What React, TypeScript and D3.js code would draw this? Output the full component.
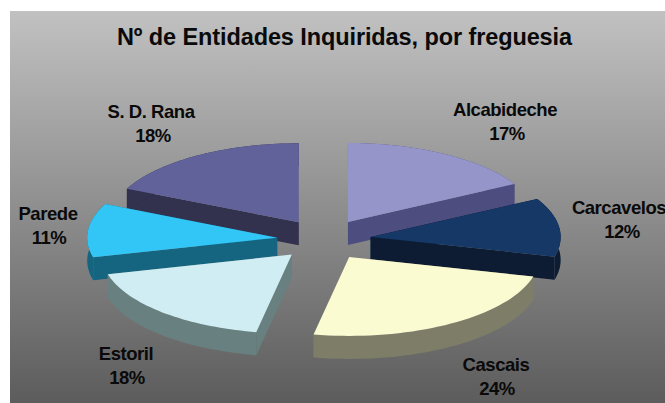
import React from "react";
import * as d3 from "d3";

const categories = ["Alcabideche", "Carcavelos", "Cascais", "Estoril", "Parede", "S. D. Rana"];
const shares = [17, 12, 24, 18, 11, 18];
const topColors = ["#9595c9", "#133766", "#fbfbd1", "#cfedf3", "#33c6f6", "#62629a"];
const sideColors = ["#4d4d80", "#0b1c33", "#7e7e68", "#67807f", "#136580", "#30304f"];
const paintOrder = [0, 5, 1, 4, 2, 3];
const labelCentres = [[505, 116], [619, 214], [496, 371], [126, 360], [48, 220], [151, 118]];
const shareCentres = [507, 622, 497, 127, 49, 153];

const W = 665, H = 403;
const CX = 324, CY = 239.6, RX = 190, RY = 79, DEPTH = 23, EXPLODE = 47, EXPLODE_Y = 20.5;

const arcs = d3.pie<number>().sort(null).value((d) => d)(shares);

function Slice({ i }: { i: number }) {
  const a = arcs[i];
  const mid = (a.startAngle + a.endAngle) / 2;
  const ax = CX + EXPLODE * Math.sin(mid);
  const ay = CY - EXPLODE_Y * Math.cos(mid);
  const angles = d3.range(0, 41).map((k) => a.startAngle + ((a.endAngle - a.startAngle) * k) / 40);
  const rim: [number, number][] = angles.map((t) => [ax + RX * Math.sin(t), ay - RY * Math.cos(t)]);
  const line = d3.line();
  const apex: [number, number] = [ax, ay];
  const down = (p: [number, number]): [number, number] => [p[0], p[1] + DEPTH];
  const first = rim[0], last = rim[rim.length - 1];
  return (
    <g>
      <path d={line([apex, first, down(first), down(apex)]) + "Z"} fill={sideColors[i]} />
      <path d={line([apex, last, down(last), down(apex)]) + "Z"} fill={sideColors[i]} />
      <path d={line([...rim, ...rim.slice().reverse().map(down)]) + "Z"} fill={sideColors[i]} />
      <path d={line([apex, ...rim]) + "Z"} fill={topColors[i]} />
    </g>
  );
}

export default function App() {
  const font = "'Liberation Sans', Arial, sans-serif";
  return (
    <svg width={W} height={H} viewBox={`0 0 ${W} ${H}`} style={{ position: "absolute", left: 0, top: 0, background: "#fff" }}>
      <defs>
        <linearGradient id="bg" x1="0" y1="0" x2="0" y2="1">
          <stop offset="0" stopColor="#c1c1c1" />
          <stop offset="1" stopColor="#5c5c5c" />
        </linearGradient>
        <filter id="soft" x="-5%" y="-5%" width="110%" height="110%">
          <feGaussianBlur stdDeviation="0.35" />
        </filter>
      </defs>
      <rect x={10} y={11} width={W - 10} height={H - 11} fill="url(#bg)" />
      <g filter="url(#soft)">
        {paintOrder.map((i) => <Slice key={i} i={i} />)}
      </g>
      <text x={344.5} y={45} textAnchor="middle" fontFamily={font} fontWeight="bold" fontSize={23.5} letterSpacing={-0.1} fill="#0a0a0a">
        Nº de Entidades Inquiridas, por freguesia
      </text>
      {categories.map((c, i) => (
        <g key={c} fontFamily={font} fontWeight="bold" fontSize={18.5} letterSpacing={-0.45} fill="#0a0a0a" textAnchor="middle">
          <text x={labelCentres[i][0]} y={labelCentres[i][1]}>{c}</text>
          <text x={shareCentres[i]} y={labelCentres[i][1] + 24}>{shares[i]}%</text>
        </g>
      ))}
    </svg>
  );
}
